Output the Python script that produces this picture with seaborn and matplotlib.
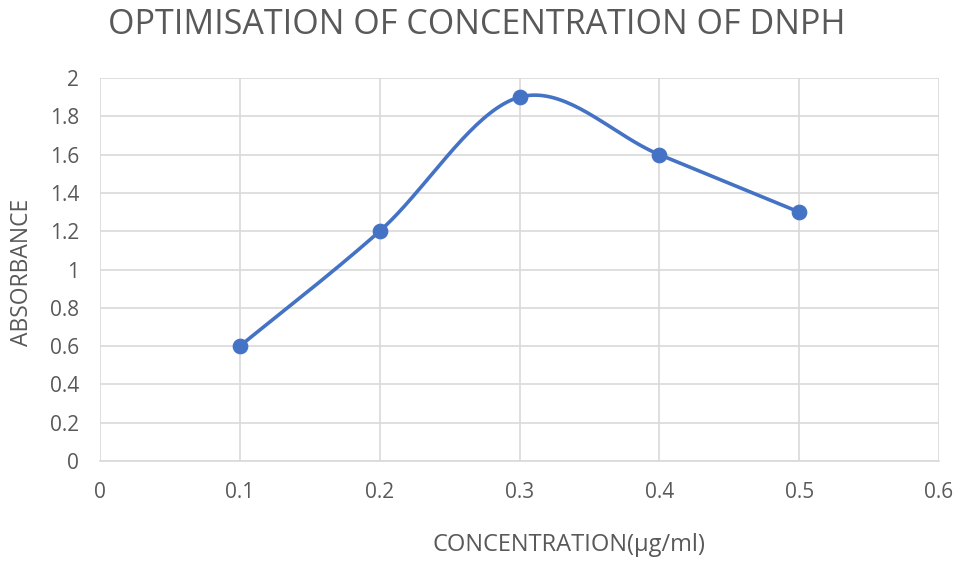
import numpy as np
import pandas as pd
import matplotlib
matplotlib.use("Agg")
import matplotlib.pyplot as plt
import seaborn as sns

concentration = [0.1, 0.2, 0.3, 0.4, 0.5]
absorbance = [0.6, 1.2, 1.9, 1.6, 1.3]
x_ticks = [0, 0.1, 0.2, 0.3, 0.4, 0.5, 0.6]
y_ticks = [0, 0.2, 0.4, 0.6, 0.8, 1, 1.2, 1.4, 1.6, 1.8, 2]
title = "OPTIMISATION OF CONCENTRATION OF DNPH"
xlabel = "CONCENTRATION(µg/ml)"
ylabel = "ABSORBANCE"

sns.set_style("white")
plt.rcParams['font.family'] = ['Open Sans', 'DejaVu Sans']

def smooth(xs, ys, n=40):
    # Excel-like smoothed line: cubic Bezier with Catmull-Rom control points
    P = np.column_stack([xs, ys]).astype(float)
    out = []
    m = len(P)
    for i in range(m - 1):
        p0 = P[i - 1] if i > 0 else P[i]
        p1 = P[i]
        p2 = P[i + 1]
        p3 = P[i + 2] if i + 2 < m else P[i + 1]
        c1 = p1 + (p2 - p0) / 6.0
        c2 = p2 - (p3 - p1) / 6.0
        t = np.linspace(0, 1, n)[:, None]
        seg = ((1 - t) ** 3) * p1 + 3 * ((1 - t) ** 2) * t * c1 + 3 * (1 - t) * t ** 2 * c2 + t ** 3 * p2
        out.append(seg if i == 0 else seg[1:])
    out = np.vstack(out)
    return out[:, 0], out[:, 1]

sx, sy = smooth(concentration, absorbance)
df_curve = pd.DataFrame({"x": sx, "y": sy})
df_pts = pd.DataFrame({"x": concentration, "y": absorbance})

fig = plt.figure(figsize=(9.59, 5.61), dpi=100)
ax = fig.add_axes([100 / 959, 1 - 461 / 561, (939 - 100) / 959, (461 - 78) / 561])

color = "#4472C4"
sns.lineplot(data=df_curve, x="x", y="y", sort=False, ax=ax, color=color, linewidth=2.6)
sns.scatterplot(data=df_pts, x="x", y="y", ax=ax, color=color, s=110, edgecolor=color, zorder=5)

ax.set_xlim(0, 0.6)
ax.set_ylim(0, 2)
ax.set_xticks(x_ticks)
ax.set_yticks(y_ticks)
ax.set_xticklabels([f"{v:g}" for v in x_ticks])
ax.set_yticklabels([f"{v:g}" for v in y_ticks])
ax.grid(True, color="#d9d9d9", linewidth=1.2)
ax.set_axisbelow(True)
for s in ["top", "right", "left"]:
    ax.spines[s].set_visible(False)
ax.spines["bottom"].set_color("#d9d9d9")
ax.spines["bottom"].set_linewidth(1.2)
ax.tick_params(axis="x", length=6, width=1.2, color="#d9d9d9", labelcolor="#595959", labelsize=15, pad=9)
ax.tick_params(axis="y", length=6, width=1.2, color="#d9d9d9", labelcolor="#595959", labelsize=15, pad=9)
ax.set_xlabel("")
ax.set_ylabel("")

fig.text(477 / 959, 1 - 25 / 561, title, ha="center", va="center", fontsize=24.5, color="#595959")
fig.text(569 / 959, 1 - 545 / 561, xlabel, ha="center", va="center", fontsize=17, color="#595959")
fig.text(22 / 959, 1 - 272 / 561, ylabel, ha="center", va="center", rotation=90, fontsize=16.5, color="#595959")

fig.savefig("out.png", dpi=100)
